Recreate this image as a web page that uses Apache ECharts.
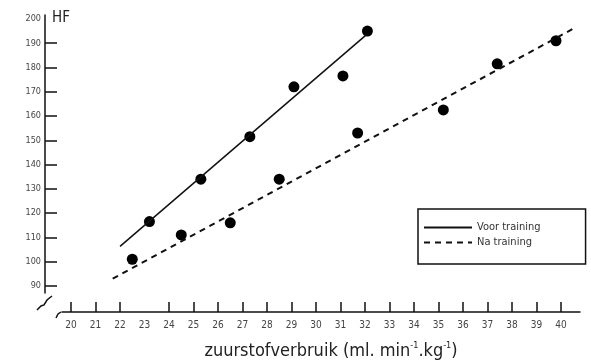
<!DOCTYPE html>
<html>
<head>
<meta charset="utf-8">
<script src="https://cdn.jsdelivr.net/npm/echarts@6/dist/echarts.min.js"></script>
<style>html,body{margin:0;padding:0;background:#fff}#c{width:591px;height:363px}</style>
</head>
<body>
<div id="c"></div>
<script>
// Data
const xTicks = [20,21,22,24,25,26,27,28,29,30,31,32,33,34,35,36,37,38,39,40];
const xLabels = [20,21,22,23,24,25,26,27,28,29,30,31,32,33,34,35,36,37,38,39,40];
const yTicks = [90,100,110,120,130,140,150,160,170,180,190];
const yLabels = [90,100,110,120,130,140,150,160,170,180,190,200];
const voorPoints = [[23.2,116.5],[25.3,134],[27.3,151.5],[29.1,172],[31.1,176.5],[32.1,195]];
const naPoints = [[22.5,101],[24.5,111],[26.5,116],[28.5,134],[31.7,153],[35.2,162.5],[37.4,181.5],[39.8,191]];
const voorLine = [[22.0,106.3],[32.1,193.8]];
const naLine = [[21.7,93],[40.6,196.5]];

const chart = echarts.init(document.getElementById('c'));
const font = 'DejaVu Sans Condensed';
chart.setOption({
  animation: false,
  backgroundColor: '#fff',
  grid: {left: 62, right: 11, top: 15, bottom: 70, containLabel: false, outerBoundsMode: 'none'},
  xAxis: {
    type: 'value', min: 19.63, max: 40.78, offset: 19,
    splitLine: {show: false},
    axisLine: {show: true, lineStyle: {color: '#111', width: 1.5}},
    axisTick: {show: true, inside: true, length: 10, customValues: xTicks, lineStyle: {color: '#111', width: 1.5}},
    axisLabel: {customValues: xLabels, color: '#444', fontFamily: font, fontSize: 10, margin: 8},
    name: '{a|zuurstofverbruik (ml. min}{s|-1}{a|.kg}{s|-1}{a|)}',
    nameLocation: 'middle', nameGap: 29,
    nameTextStyle: {padding: [0, 0, 0, 20], rich: {
      a: {fontFamily: font, fontSize: 18, color: '#222', verticalAlign: 'bottom'},
      s: {fontFamily: font, fontSize: 9, color: '#222', verticalAlign: 'top', padding: [0,0,10,0]}
    }}
  },
  yAxis: {
    type: 'value', min: 87.1, max: 201.6, offset: 17,
    splitLine: {show: false},
    axisLine: {show: true, lineStyle: {color: '#111', width: 1.5}},
    axisTick: {show: true, inside: true, length: 12, customValues: yTicks, lineStyle: {color: '#111', width: 1.5}},
    axisLabel: {customValues: yLabels, color: '#444', fontFamily: font, fontSize: 9, margin: 4}
  },
  legend: {
    orient: 'vertical', left: 418, top: 209,
    data: ['Voor training', 'Na training'],
    itemWidth: 48, itemHeight: 12, itemGap: 4,
    padding: [13, 45, 16, 5],
    borderColor: '#111', borderWidth: 1.5,
    textStyle: {fontFamily: font, fontSize: 11, color: '#333'},
    selectedMode: false
  },
  series: [
    {name: 'Voor training', type: 'line', data: voorLine, symbol: 'none', color: '#111',
     itemStyle: {color: 'rgba(0,0,0,0)'},
     lineStyle: {color: '#111', width: 1.5}},
    {name: 'Na training', type: 'line', data: naLine, symbol: 'none', color: '#111',
     itemStyle: {color: 'rgba(0,0,0,0)'},
     lineStyle: {color: '#111', width: 2, type: [6, 5]}},
    {name: 'voorPts', type: 'scatter', data: voorPoints, symbol: 'circle', symbolSize: 11,
     itemStyle: {color: '#000', opacity: 1}},
    {name: 'naPts', type: 'scatter', data: naPoints, symbol: 'circle', symbolSize: 11,
     itemStyle: {color: '#000', opacity: 1}}
  ],
  graphic: [
    {type: 'text', left: 52, top: 11, style: {text: 'HF', fontFamily: font, fontSize: 15, fill: '#222'}},
    {type: 'polyline', shape: {points: [[37,310],[41,306],[44,305],[47,300],[52,296]]}, style: {stroke: '#111', lineWidth: 1.5, fill: null}},
    {type: 'polyline', shape: {points: [[56,318],[58,314],[61,312]]}, style: {stroke: '#111', lineWidth: 1.5, fill: null}}
  ]
});
</script>
</body>
</html>
